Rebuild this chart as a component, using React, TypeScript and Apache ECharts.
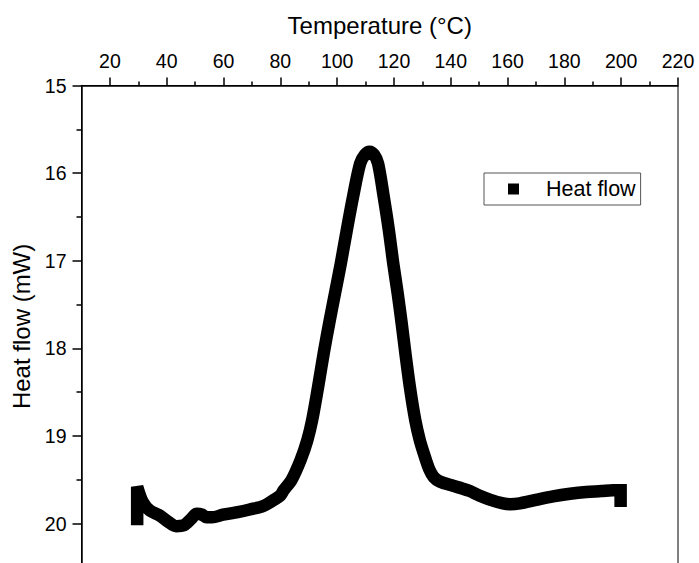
import React, { useEffect, useRef } from "react";
import * as echarts from "echarts";

const temperature = [
  29.6, 29.6, 31.5, 34, 37.6, 40.5, 43.3, 46, 48.5, 50.5, 52.5, 54, 56, 59.8, 65, 69.2, 74, 77.7, 80, 81.2,
  84.0, 87.2, 89.5, 91.2, 93.3, 95.3, 97.4, 99.5, 101.3, 103.4, 105.6, 108.1, 109.8, 111.4, 113, 114.4,
  116.4, 118.2, 119.75, 121.3, 122.7, 124.0, 125.6, 127.5, 129.1, 130.5, 132.4, 134.0, 136.1, 140.8, 144,
  146.7, 150, 154, 158.4, 161, 164.3, 170, 176, 182, 187.7, 193, 197.1, 199.8, 199.8,
];
const heatFlow = [
  19.95, 19.58, 19.75, 19.85, 19.91, 19.98, 20.03, 20.02, 19.95, 19.89, 19.9, 19.93, 19.93, 19.9, 19.87,
  19.84, 19.8, 19.73, 19.68, 19.62, 19.5, 19.27, 19.05, 18.82, 18.44, 18.05, 17.68, 17.33, 17.03, 16.65,
  16.27, 15.89, 15.79, 15.755, 15.79, 15.89, 16.27, 16.65, 17.03, 17.37, 17.71, 18.05, 18.44, 18.82, 19.05,
  19.2, 19.38, 19.47, 19.52, 19.57, 19.6, 19.63, 19.68, 19.73, 19.77, 19.78, 19.77, 19.73, 19.69, 19.66,
  19.64, 19.63, 19.62, 19.62, 19.74,
];
const xTickValues = [20, 40, 60, 80, 100, 120, 140, 160, 180, 200, 220];
const seriesName = "Heat flow";
const xName = "Temperature (°C)";
const yName = "Heat flow (mW)";

const FONT = "'Liberation Sans', Arial, sans-serif";

export default function App() {
  const ref = useRef<HTMLDivElement>(null);
  useEffect(() => {
    if (!ref.current) return;
    const chart = echarts.init(ref.current, undefined, { renderer: "svg" });
    const data = temperature.map((t, i) => [t, heatFlow[i]]);
    chart.setOption({
      animation: false,
      backgroundColor: "#fff",
      textStyle: { fontFamily: FONT, color: "#000" },
      grid: {
        left: 81.5,
        top: 85.5,
        width: 596.5,
        height: 481.8,
        show: true,
        borderColor: "#000",
        borderWidth: 1,
        backgroundColor: "transparent",
        containLabel: false,
        outerBoundsMode: "none",
      },
      legend: {
        left: 484,
        top: 173,
        orient: "horizontal",
        padding: [5, 5, 5, 24],
        itemWidth: 11,
        itemHeight: 11,
        borderColor: "#555",
        borderWidth: 1,
        backgroundColor: "#fff",
        data: [{ name: seriesName, icon: "rect" }],
        itemStyle: { color: "#000" },
        textStyle: { fontFamily: FONT, fontSize: 21.5, color: "#000", padding: [0, 0, 0, 22] },
      },
      xAxis: {
        type: "value",
        position: "top",
        min: 10,
        max: 220,
        splitNumber: 10,
        name: xName,
        nameLocation: "middle",
        nameGap: 48,
        nameTextStyle: { fontFamily: FONT, fontSize: 24, color: "#000" },
        axisLine: { show: true, onZero: false, lineStyle: { color: "#000", width: 1.5 } },
        axisTick: { show: true, inside: false, length: 8, customValues: xTickValues, lineStyle: { color: "#000", width: 1.5 } },
        minorTick: { show: true, splitNumber: 2, length: 4, lineStyle: { color: "#000", width: 1.5 } },
        axisLabel: {
          customValues: xTickValues,
          margin: 15,
          fontFamily: FONT,
          fontSize: 19.5,
          color: "#000",
        },
        splitLine: { show: false },
      },
      yAxis: {
        type: "value",
        inverse: true,
        min: 15,
        max: 20.5,
        interval: 1,
        name: yName,
        nameLocation: "middle",
        nameGap: 44,
        nameTextStyle: { fontFamily: FONT, fontSize: 24, color: "#000" },
        axisLine: { show: true, onZero: false, lineStyle: { color: "#000", width: 1.5 } },
        axisTick: { show: true, inside: false, length: 9, lineStyle: { color: "#000", width: 1.5 } },
        minorTick: { show: true, splitNumber: 2, length: 5, lineStyle: { color: "#000", width: 1.5 } },
        axisLabel: {
          showMaxLabel: false,
          margin: 15,
          fontFamily: FONT,
          fontSize: 19.5,
          color: "#000",
        },
        splitLine: { show: false },
      },
      series: [
        {
          name: seriesName,
          type: "line",
          data,
          showSymbol: false,
          symbol: "rect",
          color: "#000",
          smooth: 0.3,
          lineStyle: { color: "#000", width: 12.5, cap: "square", join: "miter" },
          itemStyle: { color: "#000" },
          clip: false,
        },
      ],
    });
    return () => chart.dispose();
  }, []);
  return (
    <div
      ref={ref}
      style={{ position: "fixed", left: 0, top: 0, width: 699, height: 563 }}
    />
  );
}
